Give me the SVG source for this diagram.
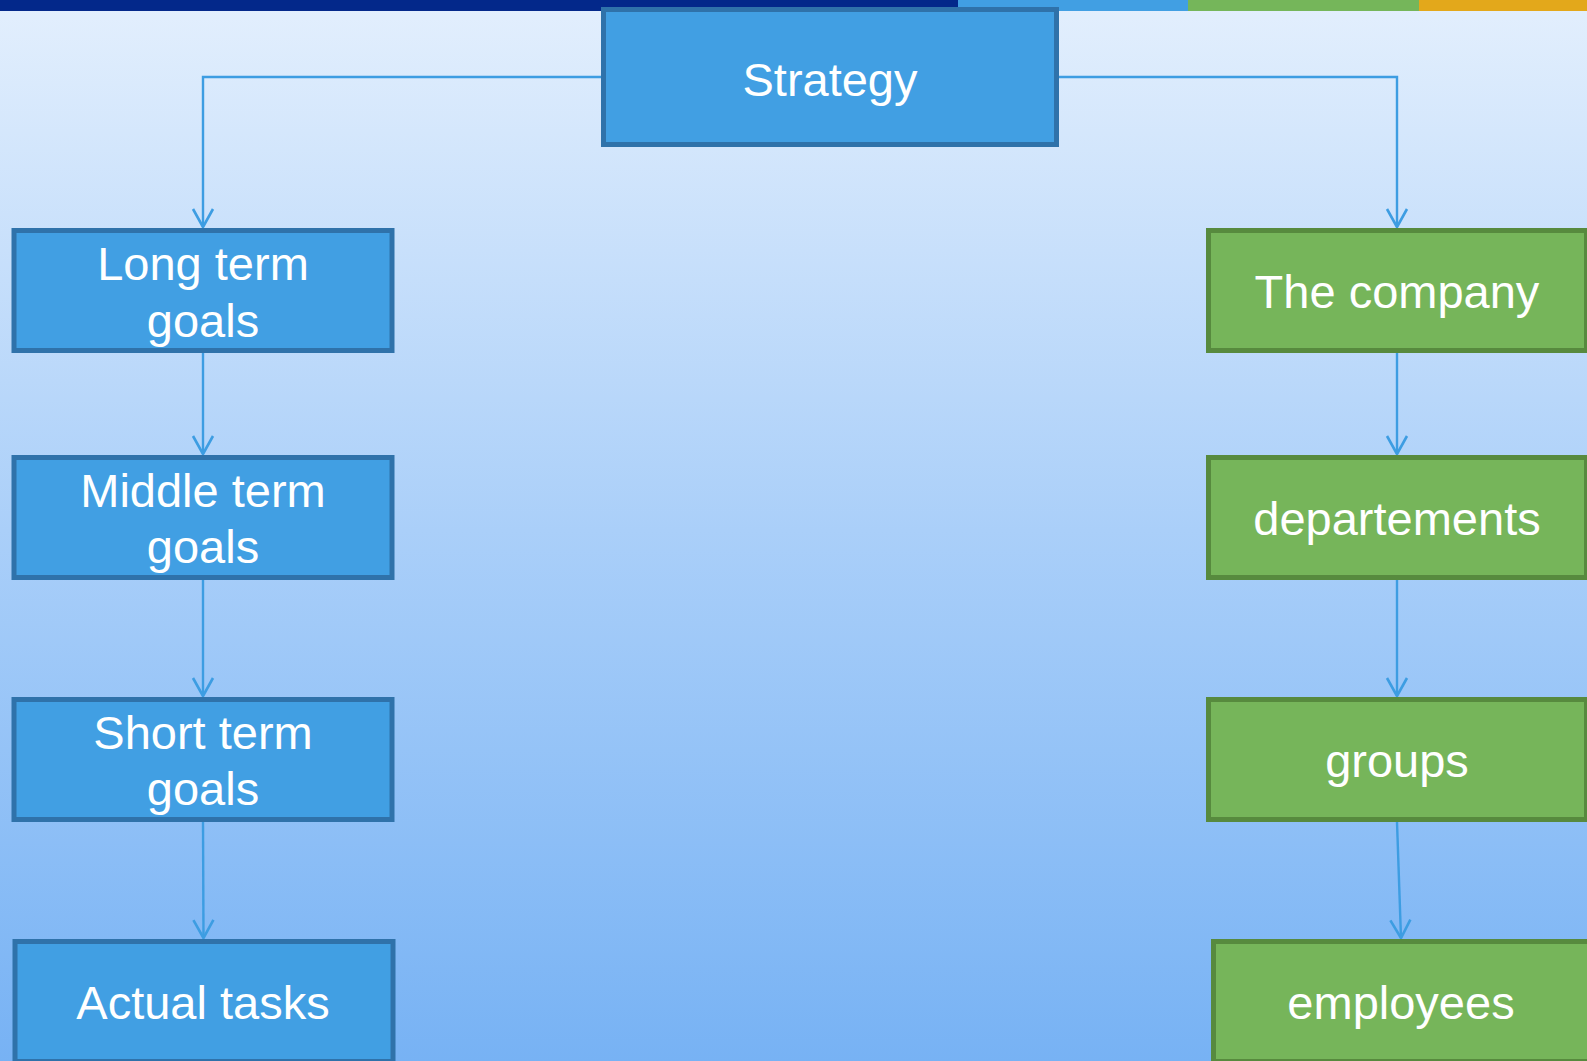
<svg xmlns="http://www.w3.org/2000/svg" width="1587" height="1061" viewBox="0 0 1587 1061">
<defs>
<linearGradient id="bg" x1="0" y1="0" x2="0" y2="1">
<stop offset="0" stop-color="#E3EFFD"/>
<stop offset="0.5" stop-color="#AACFF9"/>
<stop offset="1" stop-color="#77B2F4"/>
</linearGradient>
<marker id="arr" markerWidth="26" markerHeight="26" viewBox="-22 -13 26 26" refX="0" refY="0" orient="auto" markerUnits="userSpaceOnUse" overflow="visible">
<path d="M-18,-10 L0,0 L-18,10" fill="none" stroke="#3D9DE2" stroke-width="2.6"/>
</marker>
<style>
.blue{fill:#419FE3;stroke:#2F72AA;stroke-width:5}
.green{fill:#76B55A;stroke:#578A3E;stroke-width:5}
.t{font-family:"Liberation Sans",Arial,sans-serif;font-size:47px;fill:#FFFFFF;text-anchor:middle}
.c{fill:none;stroke:#3D9DE2;stroke-width:2.4;marker-end:url(#arr)}
</style>
</defs>
<rect x="0" y="0" width="1587" height="1061" fill="url(#bg)"/>
<rect x="0" y="0" width="958" height="11" fill="#03288A"/>
<rect x="958" y="0" width="230" height="11" fill="#419FE3"/>
<rect x="1188" y="0" width="231" height="11" fill="#75B65A"/>
<rect x="1419" y="0" width="168" height="11" fill="#E3A81B"/>
<g id="connectors">
<path class="c" d="M601,77 H203 V227"/>
<path class="c" d="M1059,77 H1397 V227"/>
<path class="c" d="M203,353 V454"/>
<path class="c" d="M203,580 V696"/>
<path class="c" d="M203,822 L203.5,938"/>
<path class="c" d="M1397,353 V454"/>
<path class="c" d="M1397,580 V696"/>
<path class="c" d="M1397,822 L1401,938"/>
</g>
<g id="strategy">
<rect class="blue" x="603.5" y="9.5" width="453" height="135"/>
<text class="t" x="830" y="96">Strategy</text>
</g>
<g id="long-term">
<rect class="blue" x="14" y="230.5" width="378" height="120"/>
<text class="t" x="203" y="280">Long term</text>
<text class="t" x="203" y="337">goals</text>
</g>
<g id="middle-term">
<rect class="blue" x="14" y="457.5" width="378" height="120"/>
<text class="t" x="203" y="507">Middle term</text>
<text class="t" x="203" y="563">goals</text>
</g>
<g id="short-term">
<rect class="blue" x="14" y="699.5" width="378" height="120"/>
<text class="t" x="203" y="749">Short term</text>
<text class="t" x="203" y="805">goals</text>
</g>
<g id="actual-tasks">
<rect class="blue" x="15" y="941.5" width="378" height="120"/>
<text class="t" x="203" y="1019">Actual tasks</text>
</g>
<g id="company">
<rect class="green" x="1208.5" y="230.5" width="378" height="120"/>
<text class="t" x="1397" y="308">The company</text>
</g>
<g id="departements">
<rect class="green" x="1208.5" y="457.5" width="378" height="120"/>
<text class="t" x="1397" y="535">departements</text>
</g>
<g id="groups">
<rect class="green" x="1208.5" y="699.5" width="378" height="120"/>
<text class="t" x="1397" y="777">groups</text>
</g>
<g id="employees">
<rect class="green" x="1213.5" y="941.5" width="378" height="120"/>
<text class="t" x="1401" y="1019">employees</text>
</g>
</svg>
